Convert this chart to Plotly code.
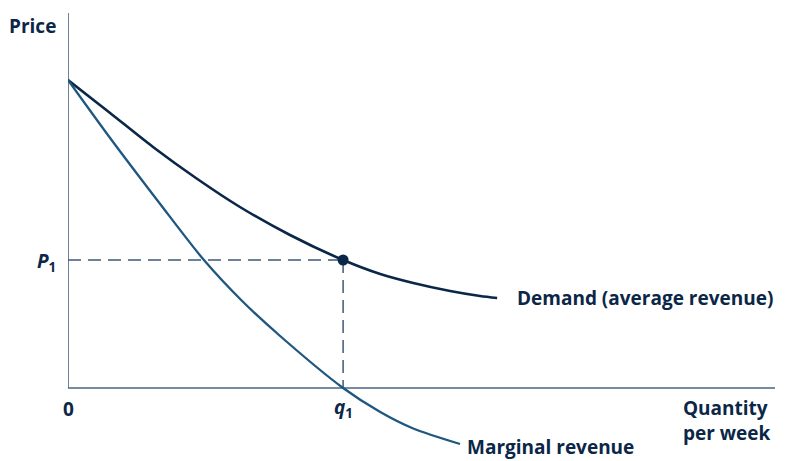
import plotly.graph_objects as go

# Demand (average revenue) curve
demand_q = [0, 1.53, 3.09, 4.65, 6.25, 8.07, 10, 11.35, 12.55, 13.89, 14.98, 15.6]
demand_p = [30.8, 27.5, 24.1, 21.0, 18.1, 15.3, 12.8, 11.4, 10.5, 9.7, 9.2, 9.0]

# Marginal revenue curve
mr_q = [0, 1.53, 3.35, 4.91, 6.33, 7.71, 10, 11.35, 12.55, 14.25]
mr_p = [30.8, 25.0, 18.4, 12.9, 8.7, 5.2, 0, -2.4, -4.05, -5.6]

q1 = 10
p1 = 12.8
x_max = 25.7
y_max = 37.5

navy = "#0b2748"
mr_col = "#1e5780"
axis_col = "#4a6380"
dash_col = "#3e5a78"
font_family = "Open Sans, Noto Sans, sans-serif"

fig = go.Figure()
fig.add_trace(go.Scatter(x=demand_q, y=demand_p, mode="lines", line=dict(color=navy, width=2.6, shape="spline", smoothing=0.8), hoverinfo="skip"))
fig.add_trace(go.Scatter(x=mr_q, y=mr_p, mode="lines", line=dict(color=mr_col, width=2.3, shape="spline", smoothing=0.8), hoverinfo="skip"))

# axes
fig.add_shape(type="line", x0=0, y0=0, x1=x_max, y1=0, line=dict(color=axis_col, width=1.6), layer="below")
fig.add_shape(type="line", x0=0, y0=0, x1=0, y1=y_max, line=dict(color=axis_col, width=1.6), layer="below")
# dashed guides
fig.add_shape(type="line", x0=0, y0=p1, x1=q1, y1=p1, line=dict(color=dash_col, width=1.5, dash="13px,7px"), layer="below")
fig.add_shape(type="line", x0=q1, y0=p1, x1=q1, y1=0, line=dict(color=dash_col, width=1.5, dash="13px,7px"), layer="below")

fig.add_trace(go.Scatter(x=[q1], y=[p1], mode="markers", marker=dict(color=navy, size=11), hoverinfo="skip"))

fnt = dict(family=font_family, size=19, color=navy)
ann = [
    dict(text="<b>Price</b>", x=0, y=y_max, xref="x", yref="y", xanchor="right", yanchor="middle", xshift=-10, yshift=-13),
    dict(text="<b><i>P</i><sub>1</sub></b>", x=0, y=p1, xref="x", yref="y", xanchor="right", yanchor="middle", xshift=-10, yshift=-2),
    dict(text="<b>0</b>", x=0, y=0, xref="x", yref="y", xanchor="center", yanchor="top", yshift=-6),
    dict(text="<b><i>q</i><sub>1</sub></b>", x=q1, y=0, xref="x", yref="y", xanchor="center", yanchor="top", yshift=-4),
    dict(text="<b>Quantity<br>per week</b>", x=x_max, y=0, xref="x", yref="y", xanchor="right", yanchor="top", align="left", xshift=-2, yshift=-5),
    dict(text="<b>Demand (average revenue)</b>", x=demand_q[-1], y=demand_p[-1], xref="x", yref="y", xanchor="left", yanchor="middle", xshift=18),
    dict(text="<b>Marginal revenue</b>", x=mr_q[-1], y=mr_p[-1], xref="x", yref="y", xanchor="left", yanchor="middle", xshift=5, yshift=-3),
]
for a in ann:
    a["showarrow"] = False
    a["font"] = fnt
fig.update_layout(annotations=ann)

# page body has an 8px margin, so the figure is shifted by 8px
fig.update_layout(
    width=782, height=453,
    margin=dict(l=60, r=15, t=5, b=0),
    paper_bgcolor="white", plot_bgcolor="white",
    showlegend=False,
    xaxis=dict(range=[0, x_max], visible=False, fixedrange=True),
    yaxis=dict(range=[-7.3, y_max], visible=False, fixedrange=True),
)
fig.write_html("out.html", config={"displayModeBar": False})
